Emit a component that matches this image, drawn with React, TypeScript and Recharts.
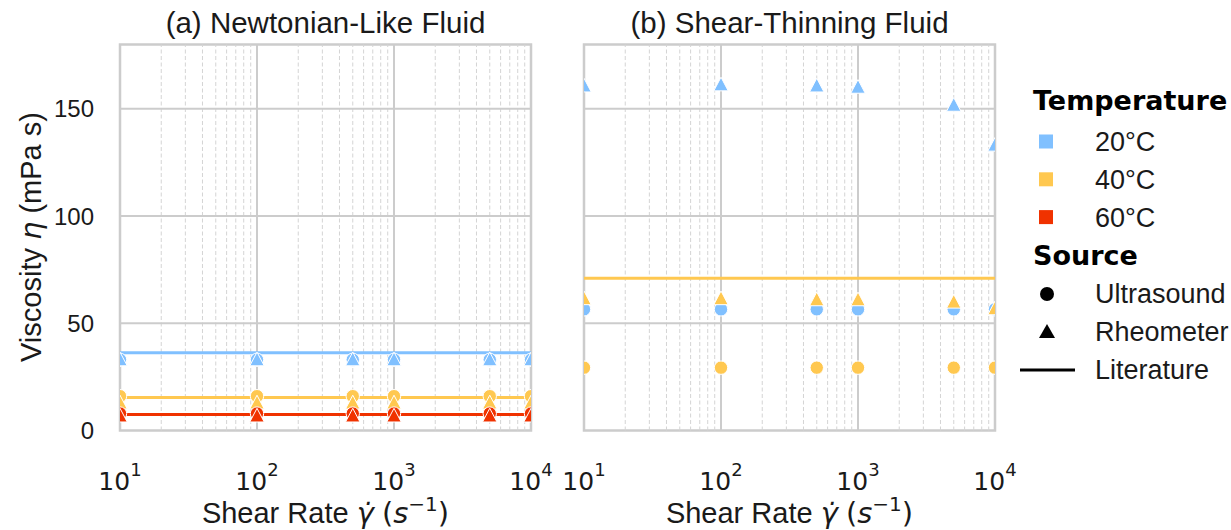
import React from 'react';
import {
  ComposedChart,
  Scatter,
  Line,
  XAxis,
  YAxis,
  ReferenceLine,
  ReferenceArea,
} from 'recharts';

// ---------- data ----------
const shearRates = [10, 100, 500, 1000, 5000, 10000];
const literatureRange = [10, 10000];
const xMajorTicks = [10, 100, 1000, 10000];
const xMinorTicks = [20, 30, 40, 50, 60, 70, 80, 90, 200, 300, 400, 500, 600, 700, 800, 900, 2000, 3000, 4000, 5000, 6000, 7000, 8000, 9000];
const yTicks = [0, 50, 100, 150];
const yGridValues = [50, 100, 150];

// (a) Newtonian-like fluid
const aUltrasound20 = [33.0, 33.0, 33.0, 33.0, 33.0, 33.0];
const aRheometer20 = [33.2, 33.2, 33.2, 33.2, 33.2, 33.2];
const aUltrasound40 = [16.0, 16.0, 16.0, 16.0, 16.0, 16.0];
const aRheometer40 = [13.1, 13.1, 13.1, 13.1, 13.1, 13.1];
const aUltrasound60 = [7.9, 7.9, 7.9, 7.9, 7.9, 7.9];
const aRheometer60 = [7.0, 7.0, 7.0, 7.0, 7.0, 7.0];
const aLiterature20 = 36.3;
const aLiterature40 = 15.4;
const aLiterature60 = 7.5;

// (b) Shear-thinning fluid
const bUltrasound20 = [56.5, 56.5, 56.5, 56.5, 56.5, 56.5];
const bRheometer20 = [160.9, 161.4, 160.9, 160.3, 151.9, 133.3];
const bUltrasound40 = [29.3, 29.3, 29.3, 29.3, 29.3, 29.3];
const bRheometer40 = [61.7, 61.7, 61.2, 61.2, 60.1, 57.0];
const bLiterature40 = 71.0;

const temperatures = ['20°C', '40°C', '60°C'];
const sources = ['Ultrasound', 'Rheometer', 'Literature'];

const C20 = '#80c0ff';
const C40 = '#ffc850';
const C60 = '#f03200';
const tempColors = [C20, C40, C60];

const REG = '"Liberation Sans", Arial, sans-serif';
const DJV = '"DejaVu Sans", sans-serif';
const TXT = '#1a1a1a';

const pts = (ys: number[]) => shearRates.map((x, i) => ({ x, y: ys[i] }));
const flat = (v: number) => literatureRange.map((x) => ({ x, y: v }));

const circleShape = (fill: string) => (p: any) => (
  <circle cx={p.cx} cy={p.cy} r={6.7} fill={fill} stroke="#fff" strokeWidth={1} />
);
const triShape = (fill: string) => (p: any) => {
  const s = 7.2;
  return (
    <path
      d={`M${p.cx},${p.cy - s} L${p.cx + s},${p.cy + s * 0.9} L${p.cx - s},${p.cy + s * 0.9} Z`}
      fill={fill}
      stroke="#fff"
      strokeWidth={1}
    />
  );
};

const PowTick = (props: any) => {
  const { x, y, payload } = props;
  const exp = Math.round(Math.log10(payload.value));
  return (
    <text x={x} y={y + 51} textAnchor="middle" fontSize={25} fill={TXT} fontFamily={DJV}>
      <tspan>10</tspan>
      <tspan dy={-14} fontSize={18}>{exp}</tspan>
    </text>
  );
};

type Series = { data: { x: number; y: number }[]; color: string; kind: 'circle' | 'tri' };
type LitLine = { value: number; color: string };

const W = 1231;
const H = 530;
const TOP = 44.5;
const BOTTOM = 430.5;

function Panel({ left, right, series, lines, showY }: { left: number; right: number; series: Series[]; lines: LitLine[]; showY: boolean }) {
  const yAxisWidth = 60;
  return (
    <div style={{ position: 'absolute', left: 0, top: 0 }}>
      <ComposedChart
        width={W}
        height={H}
        margin={{ top: TOP, right: W - right, bottom: H - BOTTOM - 60, left: showY ? left - yAxisWidth : left }}
      >
        <XAxis
          dataKey="x"
          type="number"
          scale="log"
          domain={[10, 10000]}
          ticks={xMajorTicks}
          interval={0}
          allowDataOverflow
          axisLine={false}
          tickLine={false}
          height={60}
          tick={<PowTick />}
        />
        <YAxis
          type="number"
          domain={[0, 180]}
          ticks={yTicks}
          interval={0}
          allowDataOverflow
          axisLine={false}
          tickLine={false}
          width={yAxisWidth}
          hide={!showY}
          tickMargin={20}
          tick={{ fontSize: 24, fill: TXT, fontFamily: REG }}
        />
        {xMinorTicks.map((v) => (
          <ReferenceLine key={'mn' + v} x={v} stroke="#d4d4d4" strokeWidth={1} strokeDasharray="4 2.5" />
        ))}
        {xMajorTicks.slice(1, 3).map((v) => (
          <ReferenceLine key={'mj' + v} x={v} stroke="#cccccc" strokeWidth={2} />
        ))}
        {yGridValues.map((v) => (
          <ReferenceLine key={'h' + v} y={v} stroke="#cccccc" strokeWidth={2} />
        ))}
        <ReferenceArea x1={10} x2={10000} y1={0} y2={180} fill="none" stroke="#cccccc" strokeWidth={2.5} ifOverflow="visible" />
        {lines.map((l, i) => (
          <Line
            key={'l' + i}
            data={flat(l.value)}
            dataKey="y"
            stroke={l.color}
            strokeWidth={3}
            dot={false}
            activeDot={false}
            isAnimationActive={false}
          />
        ))}
        {series.map((s, i) => (
          <Scatter
            key={'s' + i}
            data={s.data}
            dataKey="y"
            isAnimationActive={false}
            shape={s.kind === 'circle' ? circleShape(s.color) : triShape(s.color)}
          />
        ))}
      </ComposedChart>
    </div>
  );
}

export default function App() {
  const aSeries: Series[] = [
    { data: pts(aUltrasound20), color: C20, kind: 'circle' },
    { data: pts(aRheometer20), color: C20, kind: 'tri' },
    { data: pts(aUltrasound40), color: C40, kind: 'circle' },
    { data: pts(aRheometer40), color: C40, kind: 'tri' },
    { data: pts(aUltrasound60), color: C60, kind: 'circle' },
    { data: pts(aRheometer60), color: C60, kind: 'tri' },
  ];
  const aLines: LitLine[] = [
    { value: aLiterature20, color: C20 },
    { value: aLiterature40, color: C40 },
    { value: aLiterature60, color: C60 },
  ];
  const bSeries: Series[] = [
    { data: pts(bUltrasound20), color: C20, kind: 'circle' },
    { data: pts(bUltrasound40), color: C40, kind: 'circle' },
    { data: pts(bRheometer20), color: C20, kind: 'tri' },
    { data: pts(bRheometer40), color: C40, kind: 'tri' },
  ];
  const bLines: LitLine[] = [{ value: bLiterature40, color: C40 }];

  return (
    <div style={{ position: 'absolute', left: 0, top: 0, width: W, height: H, background: '#fff', fontFamily: REG, overflow: 'hidden' }}>
      <Panel left={120} right={531} series={aSeries} lines={aLines} showY />
      <Panel left={584} right={995} series={bSeries} lines={bLines} showY={false} />
      <svg width={W} height={H} style={{ position: 'absolute', left: 0, top: 0, pointerEvents: 'none' }}>
        <text x={325.5} y={33} textAnchor="middle" fontSize={29.5} fill={TXT} fontFamily={REG}>(a) Newtonian-Like Fluid</text>
        <text x={789.5} y={33} textAnchor="middle" fontSize={29.5} fill={TXT} fontFamily={REG}>(b) Shear-Thinning Fluid</text>
        <text transform="rotate(-90)" x={-237} y={41} textAnchor="middle" fontSize={29} fill={TXT} fontFamily={REG}>
          Viscosity <tspan fontStyle="italic" fontFamily={DJV}>η</tspan> (mPa s)
        </text>
        {[325.5, 789.5].map((cx) => (
          <text key={cx} x={cx} y={523} textAnchor="middle" fontSize={29} fill={TXT} fontFamily={REG}>
            Shear Rate <tspan fontStyle="italic" fontFamily={DJV}>γ̇</tspan> <tspan fontFamily={DJV}>(</tspan><tspan fontStyle="italic" fontFamily={DJV}>s</tspan>
            <tspan dy={-12} fontSize={20} fontFamily={DJV}>−1</tspan>
            <tspan dy={12} fontFamily={DJV}>)</tspan>
          </text>
        ))}
        <text x={1033} y={110} fontSize={27} fontWeight="bold" fill="#000" fontFamily={DJV}>Temperature</text>
        {temperatures.map((t, i) => (
          <g key={t}>
            <rect x={1039} y={134.5 + i * 37.8} width={14} height={14} fill={tempColors[i]} />
            <text x={1095} y={151 + i * 37.8} fontSize={27} fill={TXT} fontFamily={REG}>{t}</text>
          </g>
        ))}
        <text x={1033} y={265} fontSize={27} fontWeight="bold" fill="#000" fontFamily={DJV}>Source</text>
        <circle cx={1047} cy={294} r={7} fill="#000" />
        <path d="M1047,324 L1055,338 L1039,338 Z" fill="#000" />
        <line x1={1020} x2={1075} y1={370} y2={370} stroke="#000" strokeWidth={3} />
        {sources.map((s, i) => (
          <text key={s} x={1095} y={303 + i * 38} fontSize={27} fill={TXT} fontFamily={REG}>{s}</text>
        ))}
      </svg>
    </div>
  );
}
